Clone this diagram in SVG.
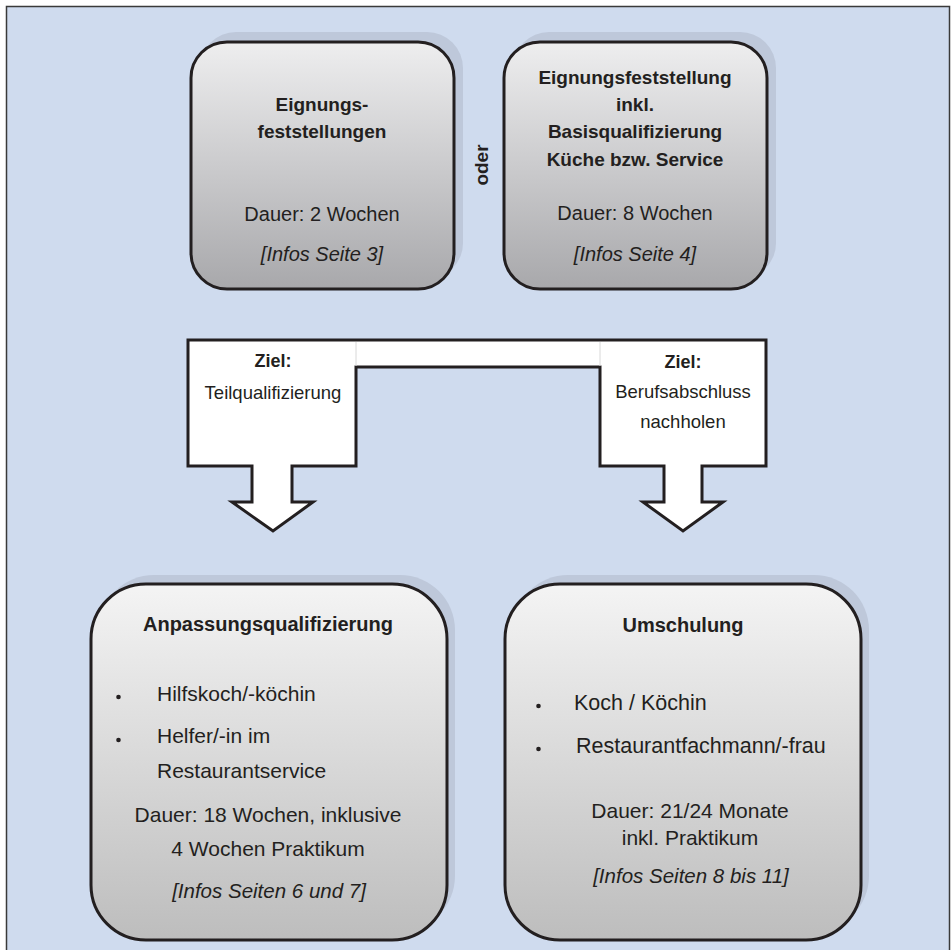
<svg xmlns="http://www.w3.org/2000/svg" width="952" height="950" viewBox="0 0 952 950">
<defs>
<linearGradient id="gTop" x1="0" y1="0" x2="0" y2="1">
<stop offset="0" stop-color="#EEEEEF"/>
<stop offset="1" stop-color="#A8A8AB"/>
</linearGradient>
<linearGradient id="gBot" x1="0" y1="0" x2="0" y2="1">
<stop offset="0" stop-color="#F4F4F4"/>
<stop offset="1" stop-color="#BDBDBD"/>
</linearGradient>
<style>
.t{font-family:"Liberation Sans",Arial,sans-serif;fill:#231F20}
.b{font-weight:bold}
.i{font-style:italic}
.c{text-anchor:middle}
.box{stroke:#231F20;stroke-width:3}
.sh{fill:#BEC8DA}
</style>
</defs>
<rect x="6.5" y="6.5" width="943" height="950" fill="#CFDBEE" stroke="#3A3A3A" stroke-width="1.5"/>

<g id="node-eignung">
<rect class="sh" x="200" y="32" width="263" height="247" rx="36"/>
<rect class="box" x="191" y="42" width="263" height="247" rx="36" fill="url(#gTop)"/>
<text class="t b c" x="322" y="111" font-size="19">Eignungs-</text>
<text class="t b c" x="322" y="138" font-size="19">feststellungen</text>
<text class="t c" x="322" y="221" font-size="20">Dauer: 2 Wochen</text>
<text class="t i c" x="322" y="261" font-size="20">[Infos Seite 3]</text>
</g>

<g id="label-oder">
<text class="t b c" font-size="19" transform="translate(488,165) rotate(-90)">oder</text>
</g>

<g id="node-eignung-basis">
<rect class="sh" x="513" y="32" width="263" height="247" rx="36"/>
<rect class="box" x="504" y="42" width="263" height="247" rx="36" fill="url(#gTop)"/>
<text class="t b c" x="635" y="84" font-size="19">Eignungsfeststellung</text>
<text class="t b c" x="635" y="111" font-size="19">inkl.</text>
<text class="t b c" x="635" y="138" font-size="19">Basisqualifizierung</text>
<text class="t b c" x="635" y="166" font-size="19">Küche bzw. Service</text>
<text class="t c" x="635" y="220" font-size="20">Dauer: 8 Wochen</text>
<text class="t i c" x="635" y="261" font-size="20">[Infos Seite 4]</text>
</g>

<g id="connectors">
<path d="M188,340 L766,340 L766,466 L702,466 L702,502 L723,502 L683,531 L643,502 L664,502 L664,466 L600,466 L600,367 L356,367 L356,466 L292,466 L292,502 L313,502 L273,531 L232,502 L252,502 L252,466 L188,466 Z" fill="#FFFFFF" stroke="#231F20" stroke-width="3" stroke-linejoin="miter"/>
<line x1="356" y1="342" x2="356" y2="366" stroke="#D8D8D8" stroke-width="1"/>
<line x1="600" y1="342" x2="600" y2="366" stroke="#D8D8D8" stroke-width="1"/>
<text class="t b c" x="273" y="367" font-size="18">Ziel:</text>
<text class="t c" x="273" y="399" font-size="18.5">Teilqualifizierung</text>
<text class="t b c" x="683" y="368" font-size="18">Ziel:</text>
<text class="t c" x="683" y="398" font-size="18.5">Berufsabschluss</text>
<text class="t c" x="683" y="428" font-size="18.5">nachholen</text>
</g>

<g id="node-anpassung">
<rect class="sh" x="99" y="575" width="356" height="356" rx="55"/>
<rect class="box" x="91" y="584" width="356" height="356" rx="55" fill="url(#gBot)"/>
<text class="t b c" x="268" y="631" font-size="20">Anpassungsqualifizierung</text>
<circle cx="118.5" cy="697" r="2.3" fill="#231F20"/>
<text class="t" x="157" y="701" font-size="21">Hilfskoch/-köchin</text>
<circle cx="118.5" cy="740" r="2.3" fill="#231F20"/>
<text class="t" x="157" y="743" font-size="21">Helfer/-in im</text>
<text class="t" x="157" y="778" font-size="21">Restaurantservice</text>
<text class="t c" x="268" y="822" font-size="21">Dauer: 18 Wochen, inklusive</text>
<text class="t c" x="268" y="856" font-size="21">4 Wochen Praktikum</text>
<text class="t i c" x="269" y="898" font-size="20.5">[Infos Seiten 6 und 7]</text>
</g>

<g id="node-umschulung">
<rect class="sh" x="513" y="575" width="356" height="356" rx="55"/>
<rect class="box" x="505" y="584" width="356" height="356" rx="55" fill="url(#gBot)"/>
<text class="t b c" x="683" y="632" font-size="20">Umschulung</text>
<circle cx="538.5" cy="706" r="2.3" fill="#231F20"/>
<text class="t" x="574" y="710" font-size="21.5">Koch / Köchin</text>
<circle cx="538.5" cy="749" r="2.3" fill="#231F20"/>
<text class="t" x="576" y="753" font-size="21.5">Restaurantfachmann/-frau</text>
<text class="t c" x="690" y="818" font-size="21">Dauer: 21/24 Monate</text>
<text class="t c" x="690" y="845" font-size="21">inkl. Praktikum</text>
<text class="t i c" x="691" y="883" font-size="20.5">[Infos Seiten 8 bis 11]</text>
</g>
</svg>
